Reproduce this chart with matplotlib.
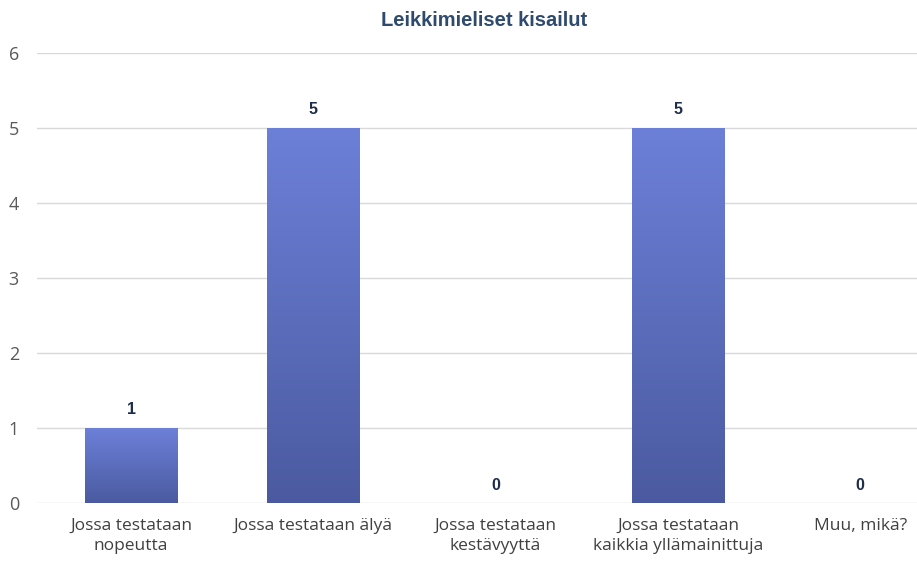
import numpy as np
import matplotlib
matplotlib.use("Agg")
import matplotlib.pyplot as plt
from matplotlib.colors import LinearSegmentedColormap

categories = ["Jossa testataan\nnopeutta",
              "Jossa testataan älyä",
              "Jossa testataan\nkestävyyttä",
              "Jossa testataan\nkaikkia yllämainittuja",
              "Muu, mikä?"]
counts = [1, 5, 0, 5, 0]
y_ticks = [0, 1, 2, 3, 4, 5, 6]
title = "Leikkimieliset kisailut"

W, H = 917, 565
fig = plt.figure(figsize=(W / 100, H / 100), dpi=100)
ax = fig.add_axes([37 / W, 62 / H, 1 - 37 / W, 450 / H])

x = np.arange(len(categories))
bar_w = 0.505
bars = ax.bar(x, counts, width=bar_w, color="#5A6CBC", zorder=2)

# vertical gradient inside each bar, lighter at the top
grad = LinearSegmentedColormap.from_list("g", ["#4B5AA0", "#6C80D8"])
g = np.linspace(0, 1, 256).reshape(-1, 1)
for b, v in zip(bars, counts):
    if v <= 0:
        continue
    im = ax.imshow(g, cmap=grad, origin="lower", aspect="auto",
                   extent=[b.get_x(), b.get_x() + b.get_width(), 0, v], zorder=3)
    im.set_clip_path(b)

for xi, v in zip(x, counts):
    ax.text(xi, v + 0.14, str(v), ha="center", va="bottom",
            fontsize=11.5, fontweight="bold", color="#1F2D4D",
            family="Liberation Sans")

# pixel 131 is the first category centre, 182.3 px per category
ax.set_xlim((0 - 131 + 37) / 182.3, (917 - 131) / 182.3)
ax.set_ylim(0, 6)
ax.set_yticks(y_ticks)
ax.set_xticks(x)
ax.set_xticklabels(categories, fontsize=12.5, color="#404040", family="Open Sans",
                   linespacing=1.3)
ax.tick_params(axis="x", length=0, pad=11)
ax.tick_params(axis="y", length=0, pad=13, labelsize=13, labelcolor="#595959")
for lbl in ax.get_yticklabels():
    lbl.set_family("Open Sans")
for yv in y_ticks:
    ax.axhline(yv, color="#D9D9D9", linewidth=1, zorder=1)
for s in ax.spines.values():
    s.set_visible(False)

fig.text(484 / W, 1 - 20 / H, title, ha="center", va="center",
         fontsize=14.5, fontweight="bold", color="#2E4A6E", family="Liberation Sans")

fig.savefig("out.png", dpi=100, facecolor="white")
